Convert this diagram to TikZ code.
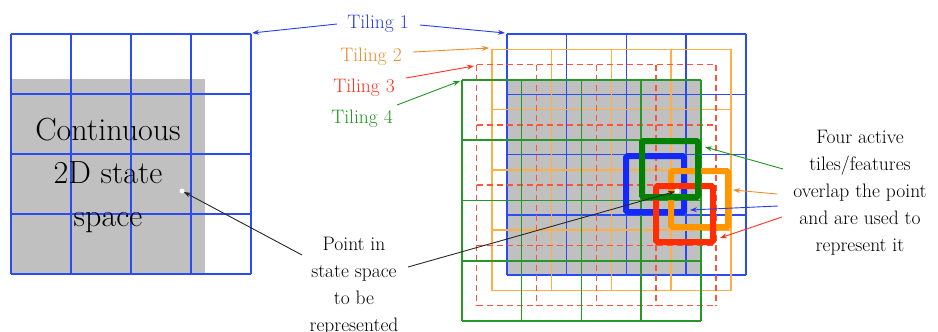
\documentclass[tikz,border=0pt]{standalone}
\usepackage{fontspec}
\usetikzlibrary{arrows.meta}
\definecolor{tblue}{RGB}{45,75,245}
\definecolor{torange}{RGB}{255,175,70}
\definecolor{tred}{RGB}{250,85,60}
\definecolor{tgreen}{RGB}{40,150,40}
\definecolor{ablue}{RGB}{20,40,250}
\definecolor{aorange}{RGB}{255,150,0}
\definecolor{ared}{RGB}{255,45,0}
\definecolor{agreen}{RGB}{0,130,0}
\definecolor{lblue}{RGB}{40,60,235}
\definecolor{lorange}{RGB}{240,140,40}
\definecolor{lred}{RGB}{255,50,30}
\definecolor{lgreen}{RGB}{30,150,30}
\definecolor{stategray}{RGB}{192,192,192}
\newcommand\tilegrid[5]{%
  \foreach \k in {0,...,4}{%
    \draw[#5] ({#1+\k*#3},#2) -- ({#1+\k*#3},{#2+4*#4});
    \draw[#5] (#1,{#2+\k*#4}) -- ({#1+4*#3},{#2+\k*#4});
  }}
\tikzset{
  grid1/.style={tblue, line width=1.6pt},
  grid2/.style={torange, line width=1.6pt},
  grid3/.style={tred, line width=1.4pt, dash pattern=on 6pt off 4pt},
  grid4/.style={tgreen, line width=1.6pt},
  active/.style={line width=6pt, rounded corners=1.5pt},
  lab/.style={font=\fontsize{19.5}{24}\selectfont, inner sep=1pt},
  note/.style={font=\fontsize{19.5}{27}\selectfont, align=center},
  bigtext/.style={font=\fontsize{32}{43}\selectfont, align=center},
  arr/.style={-{Stealth[length=7pt,width=5pt]}, line width=0.9pt},
  blk/.style={arr, draw={rgb,255:red,40;green,40;blue,40}, shorten >=2pt},
}
\begin{document}
\begin{tikzpicture}[x=1pt,y=-1pt]
\useasboundingbox (0,0) rectangle (938,332);
% left state space
\fill[stategray] (11,79) rectangle (205,274);
\tilegrid{11}{34}{60}{60}{grid1}
\node[bigtext] (cont) at (108,175) {Continuous\\2D state\\space};
\fill[white] (182,191) circle (2.5);
\coordinate (pL) at (182,191);
% right tilings
\fill[stategray] (506.7,79.8) rectangle (701,275);
\tilegrid{506.7}{34}{59.8}{60.3}{grid1}
\tilegrid{491.7}{49.3}{59.8}{60.3}{grid2}
\tilegrid{476.7}{64.5}{59.8}{60.3}{grid3}
\tilegrid{461.7}{79.8}{59.8}{60.3}{grid4}
% active tiles
\draw[active, ablue] (626,156) rectangle (684,212);
\draw[active, aorange] (671,171) rectangle (728,227);
\draw[active, ared] (656,186) rectangle (713,242);
\draw[active, agreen] (642,141) rectangle (698,197);
\fill[white] (677,191) circle (2.5);
\coordinate (pR) at (677,191);
% tiling labels
\node[lab, text=lblue] (t1) at (378,24) {Tiling 1};
\node[lab, text=lorange] (t2) at (371,57) {Tiling 2};
\node[lab, text=lred] (t3) at (364,88) {Tiling 3};
\node[lab, text=lgreen] (t4) at (362,119) {Tiling 4};
\coordinate (gL) at (252,33);
\coordinate (g1) at (505,33);
\coordinate (g2) at (489,48);
\coordinate (g3) at (474,66);
\coordinate (g4) at (460,81);
\coordinate (s1a) at (337,24);
\coordinate (s1b) at (420,25);
\coordinate (s2) at (413,52);
\coordinate (s3) at (406,78);
\coordinate (s4) at (397,105);
\draw[arr, lblue] (s1a) -- (gL);
\draw[arr, lblue] (s1b) -- (g1);
\draw[arr, lorange] (s2) -- (g2);
\draw[arr, lred] (s3) -- (g3);
\draw[arr, lgreen] (s4) -- (g4);
% point label
\node[note] (pt) at (354,286) {Point in\\state space\\to be\\represented};
\coordinate (ptL) at (302,255);
\coordinate (ptR) at (408,267);
\draw[blk] (ptL) -- (pL);
\draw[blk] (ptR) -- (pR);
% four active label
\node[note] (four) at (860,193) {Four active\\tiles/features\\overlap the point\\and are used to\\represent it};
\coordinate (fg) at (783,169);
\coordinate (fo) at (777,194);
\coordinate (fb) at (778,206);
\coordinate (fr) at (782,217);
\coordinate (eg) at (705,147);
\coordinate (eo) at (733,190);
\coordinate (eb) at (690,210);
\coordinate (er) at (720,238);
\draw[arr, lgreen] (fg) -- (eg);
\draw[arr, lorange] (fo) -- (eo);
\draw[arr, lblue] (fb) -- (eb);
\draw[arr, lred] (fr) -- (er);
\end{tikzpicture}
\end{document}
